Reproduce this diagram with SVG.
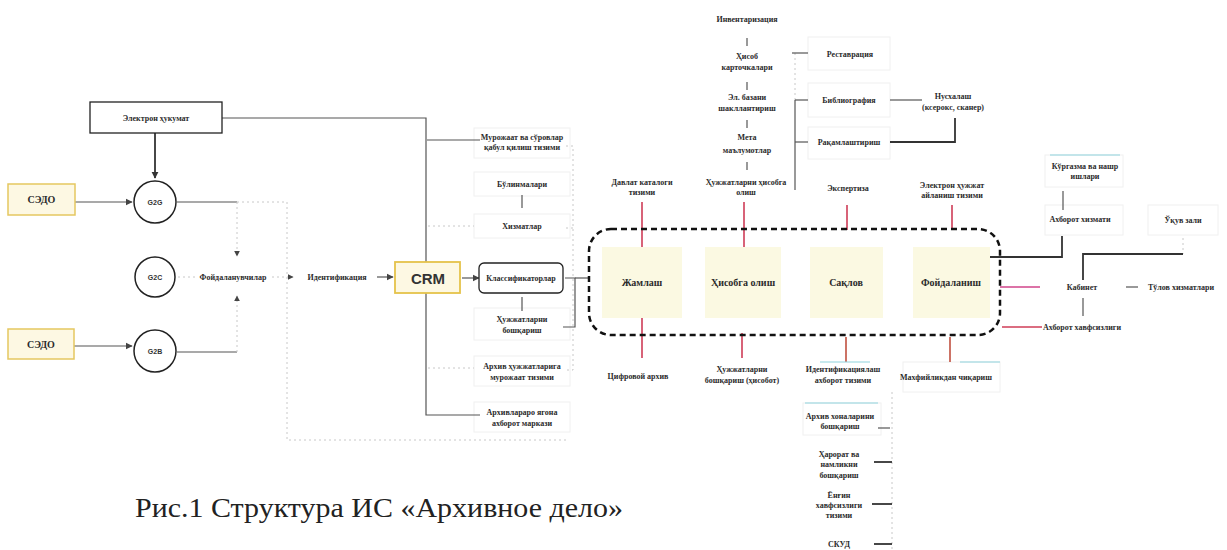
<svg xmlns="http://www.w3.org/2000/svg" width="1227" height="550" viewBox="0 0 1227 550">
<style>
.t{font-family:"Liberation Serif","Noto Sans",serif;font-size:8px;font-weight:bold;fill:#2b2b2b;text-anchor:middle}
.bt{font-family:"Liberation Serif","Noto Sans",serif;font-size:10px;font-weight:bold;fill:#2b2b2b;text-anchor:middle}
.g{font-family:"Liberation Sans","DejaVu Sans",sans-serif;font-size:7px;font-weight:bold;fill:#333;text-anchor:middle}
.card{fill:#fff;stroke:#f0f0f0;stroke-width:1}
.ln{stroke:#555;stroke-width:1.2;fill:none}
.dk{stroke:#333;stroke-width:1.8;fill:none}
.fa{stroke:#c8c8c8;stroke-width:1;stroke-dasharray:2 3;fill:none}
.red{stroke:#cf3c57;stroke-width:1.6;fill:none}
.br{stroke:#c0503f;stroke-width:1.6;fill:none}
.pk{stroke:#d0458a;stroke-width:1.6;fill:none}
.cy{stroke:#8fd3dd;stroke-width:1.2;fill:none}
.stage{fill:#fbf9e2;stroke:none}
.sedo{fill:#fdf8e3;stroke:#e5c760;stroke-width:1.5}
.circ{fill:#fff;stroke:#222;stroke-width:1.5}
</style>
<defs>
<marker id="ah" viewBox="0 0 10 10" refX="9" refY="5" markerWidth="6" markerHeight="6" orient="auto-start-reverse"><path d="M0,0 L10,5 L0,10 z" fill="#444"/></marker>
<marker id="ahb" viewBox="0 0 10 10" refX="9" refY="5" markerWidth="4" markerHeight="4" orient="auto"><path d="M0,0 L10,5 L0,10 z" fill="#333"/></marker>
</defs>
<rect width="1227" height="550" fill="#fff"/>

<!-- faint cards -->
<g id="cards">
<rect class="card" x="474" y="128" width="96" height="30"/>
<rect class="card" x="474" y="172" width="96" height="24"/>
<rect class="card" x="474" y="214" width="96" height="24"/>
<rect class="card" x="474" y="308" width="96" height="32"/>
<rect class="card" x="474" y="356" width="96" height="30"/>
<rect class="card" x="474" y="402" width="96" height="30"/>
<rect class="card" x="808" y="37" width="82" height="33"/>
<rect class="card" x="808" y="83" width="82" height="34"/>
<rect class="card" x="808" y="127" width="82" height="32"/>
<rect class="card" x="1045" y="155" width="78" height="32"/>
<rect class="card" x="1045" y="205" width="78" height="30"/>
<rect class="card" x="1148" y="205" width="70" height="30"/>
<rect class="card" x="803" y="403" width="78" height="32"/>
<rect class="card" x="903" y="362" width="97" height="30"/>
</g>

<!-- connectors -->
<g id="connectors">
<path class="fa" d="M237,202 H287 V440 H568"/>
<path class="fa" d="M566,146 H573 V370 H566"/>
<path class="fa" d="M428,226 H474"/>
<path class="fa" d="M428,368 H474"/>
<path class="fa" d="M566,228 H573"/>
<path class="dk" d="M155,133 V178" marker-end="url(#ahb)" stroke-width="2.2"/>
<path class="ln" d="M222,118 H426 V262"/>
<path class="ln" d="M426,293 V415 H480"/>
<path class="ln" d="M427,140 H480"/>
<path class="ln" d="M75,202 H132" marker-end="url(#ah)"/>
<path class="ln" d="M74,346 H132" marker-end="url(#ah)"/>
<path class="ln" d="M177,202 H237"/>
<path class="fa" d="M237,202 V256" stroke="#999" marker-end="url(#ah)"/>
<path class="ln" d="M177,352 H237"/>
<path class="fa" d="M237,352 V296" stroke="#999" marker-end="url(#ah)"/>
<path class="fa" d="M178,277 H195" stroke="#999"/>
<path class="fa" d="M272,277 H293" stroke="#999" marker-end="url(#ah)"/>
<path class="ln" d="M377,277 H393" marker-end="url(#ah)"/>
<path class="ln" d="M462,278 H479" marker-end="url(#ah)"/>
<path class="ln" d="M522,195 V208" stroke="#888" stroke-width="0.8"/>
<path class="ln" d="M522,297 V311" stroke="#888" stroke-width="0.8"/>
<path class="ln" d="M565,278 H575 V327 H563"/>
<path class="ln" d="M575,278 H589"/>
<path class="ln" d="M747,38 V46"/>
<path class="ln" d="M747,82 V90"/>
<path class="ln" d="M747,120 V128"/>
<path class="ln" d="M747,162 V170"/>
<path class="fa" d="M795,53 V100" stroke="#aaa"/>
<path class="ln" d="M792,53 H808"/>
<path class="ln" d="M795,100 V190"/>
<path class="ln" d="M795,100 H808"/>
<path class="ln" d="M795,142 H808"/>
<path class="ln" d="M890,100 H922"/>
<path class="dk" d="M890,142 H955 V118"/>
<path class="red" d="M642,202 V247"/>
<path class="red" d="M744,202 V247"/>
<path class="red" d="M847,205 V230"/>
<path class="red" d="M952,205 V230"/>
<path class="red" d="M642,318 V358"/>
<path class="red" d="M742,333 V358"/>
<path class="br" d="M846,337 V362"/>
<path class="br" d="M950,337 V362"/>
<path class="ln" d="M1063,191 V210" stroke="#888" stroke-width="0.8"/>
<path class="dk" d="M988,257 H1062 V236" stroke-width="1.4"/>
<path class="fa" d="M1183,238 V254" stroke="#999"/>
<path class="dk" d="M1183,254 H1083 V280" stroke-width="1.4"/>
<path class="pk" d="M1000,287 H1040"/>
<path class="ln" d="M1126,287 H1138"/>
<path class="ln" d="M1083,298 V316" stroke="#888" stroke-width="0.8"/>
<path class="red" d="M1002,327 H1042"/>
<path class="fa" d="M892,392 V550"/>
<path class="ln" d="M878,428 H890"/>
<path class="dk" d="M874,462 H892" stroke-width="1.4"/>
<path class="dk" d="M872,504 H892" stroke-width="1.4"/>
<path class="dk" d="M874,544 H892" stroke-width="1.4"/>
<path class="cy" d="M1050,155 H1120"/>
<path class="cy" d="M805,403 H878"/>
<path class="cy" d="M960,362 H1000"/>
<path class="cy" d="M820,362 H870"/>
</g>

<!-- left nodes -->
<g id="egov"><rect x="90" y="102" width="132" height="31" fill="#fff" stroke="#222" stroke-width="1.3"/><text class="t" x="156" y="121" font-size="9">Электрон ҳукумат</text></g>
<g id="sedo1"><rect class="sedo" x="8" y="184" width="67" height="31"/><text class="bt" x="41.5" y="203" font-size="11.5">СЭДО</text></g>
<g id="sedo2"><rect class="sedo" x="8" y="329" width="66" height="30"/><text class="bt" x="41" y="348" font-size="11.5">СЭДО</text></g>
<g id="g2g"><circle class="circ" cx="155" cy="202" r="21"/><text class="g" x="155" y="205">G2G</text></g>
<g id="g2c"><circle class="circ" cx="155" cy="277" r="20"/><text class="g" x="155" y="280">G2C</text></g>
<g id="g2b"><circle class="circ" cx="155" cy="351" r="21"/><text class="g" x="155" y="354">G2B</text></g>
<g id="users"><text class="t" x="233" y="280">Фойдаланувчилар</text></g>
<g id="ident"><text class="t" x="337" y="280" font-size="8.5">Идентификация</text></g>
<g id="crm"><rect x="395" y="262" width="65" height="31" fill="#fdf8e3" stroke="#e5c24a" stroke-width="1.8"/><text x="428" y="283.5" text-anchor="middle" font-family="Liberation Sans,Arial,sans-serif" font-size="15" font-weight="bold" fill="#333">CRM</text></g>

<!-- CRM column -->
<g id="appeals"><text class="t" x="522" y="140">Мурожаат ва сўровлар</text><text class="t" x="522" y="150">қабул қилиш тизими</text></g>
<g id="divisions"><text class="t" x="522" y="187">Бўлинмалари</text></g>
<g id="services"><text class="t" x="522" y="229">Хизматлар</text></g>
<g id="classif"><rect x="479" y="263" width="84" height="30" rx="5" fill="#fff" stroke="#222" stroke-width="1.3"/><text class="t" x="521" y="281" font-size="8.5">Классификаторлар</text></g>
<g id="docmgmt"><text class="t" x="522" y="322">Ҳужжатларни</text><text class="t" x="522" y="333">бошқариш</text></g>
<g id="archaccess"><text class="t" x="522" y="369">Архив ҳужжатларига</text><text class="t" x="522" y="380">мурожаат тизими</text></g>
<g id="interarch"><text class="t" x="522" y="415">Архивлараро ягона</text><text class="t" x="522" y="426">ахборот маркази</text></g>

<!-- stage region -->
<g id="stages">
<rect x="589" y="229" width="411" height="106" rx="22" fill="none" stroke="#111" stroke-width="2.5" stroke-dasharray="6 4"/>
</g>
<g id="collect"><rect class="stage" x="602" y="247" width="80" height="71"/><text class="bt" x="642" y="286">Жамлаш</text></g>
<g id="account"><rect class="stage" x="705" y="247" width="76" height="71"/><text class="bt" x="743" y="286">Ҳисобга олиш</text></g>
<g id="storage"><rect class="stage" x="810" y="247" width="73" height="71"/><text class="bt" x="846" y="286">Сақлов</text></g>
<g id="usage"><rect class="stage" x="913" y="247" width="77" height="71"/><text class="bt" x="951" y="286">Фойдаланиш</text></g>

<!-- top labels -->
<g id="statecat"><text class="t" x="642" y="185">Давлат каталоги</text><text class="t" x="642" y="195">тизими</text></g>
<g id="docacc"><text class="t" x="746" y="185">Ҳужжатларни ҳисобга</text><text class="t" x="746" y="195">олиш</text></g>
<g id="expert"><text class="t" x="848" y="191">Экспертиза</text></g>
<g id="edoc"><text class="t" x="952" y="188">Электрон ҳужжат</text><text class="t" x="952" y="198">айланиш тизими</text></g>

<!-- top chain -->
<g id="inventory"><text class="t" x="747" y="22">Инвентаризация</text></g>
<g id="cards2"><text class="t" x="747" y="59">Ҳисоб</text><text class="t" x="747" y="70">карточкалари</text></g>
<g id="ebase"><text class="t" x="747" y="100">Эл. базани</text><text class="t" x="747" y="111">шакллантириш</text></g>
<g id="meta"><text class="t" x="747" y="140">Мета</text><text class="t" x="747" y="153">маълумотлар</text></g>
<g id="restore"><text class="t" x="850" y="57">Реставрация</text></g>
<g id="biblio"><text class="t" x="849" y="103">Библиография</text></g>
<g id="digit"><text class="t" x="849" y="145">Рақамлаштириш</text></g>
<g id="copy"><text class="t" x="953" y="99">Нусхалаш</text><text class="t" x="953" y="110">(ксерокс, сканер)</text></g>

<!-- bottom labels -->
<g id="digarch"><text class="t" x="638" y="379">Цифровой архив</text></g>
<g id="docrep"><text class="t" x="742" y="372">Ҳужжатларни</text><text class="t" x="742" y="383">бошқариш (ҳисобот)</text></g>
<g id="idsys"><text class="t" x="843" y="372">Идентификациялаш</text><text class="t" x="843" y="383">ахборот тизими</text></g>
<g id="declass"><text class="t" x="946" y="380">Махфийликдан чиқариш</text></g>

<!-- lower chain -->
<g id="rooms"><text class="t" x="840" y="419">Архив хоналарини</text><text class="t" x="840" y="429">бошқариш</text></g>
<g id="climate"><text class="t" x="839" y="457">Ҳарорат ва</text><text class="t" x="839" y="467">намликни</text><text class="t" x="839" y="478">бошқариш</text></g>
<g id="fire"><text class="t" x="839" y="498">Ёнғин</text><text class="t" x="839" y="508">хавфсизлиги</text><text class="t" x="839" y="518">тизими</text></g>
<g id="skud"><text class="t" x="839" y="547">СКУД</text></g>

<!-- right side -->
<g id="exhib"><text class="t" x="1085" y="169">Кўргазма ва нашр</text><text class="t" x="1085" y="179">ишлари</text></g>
<g id="infoserv"><text class="t" x="1080" y="222">Ахборот хизмати</text></g>
<g id="reading"><text class="t" x="1183" y="223">Ўқув зали</text></g>
<g id="cabinet"><text class="t" x="1082" y="290">Кабинет</text></g>
<g id="payment"><text class="t" x="1181" y="290">Тўлов хизматлари</text></g>
<g id="infosec"><text class="t" x="1082" y="330">Ахборот хавфсизлиги</text></g>

<!-- caption -->
<text x="135" y="517" font-family="Liberation Serif,Times New Roman,serif" font-size="28" fill="#222" textLength="488" lengthAdjust="spacingAndGlyphs">Рис.1 Структура ИС «Архивное дело»</text>
</svg>
